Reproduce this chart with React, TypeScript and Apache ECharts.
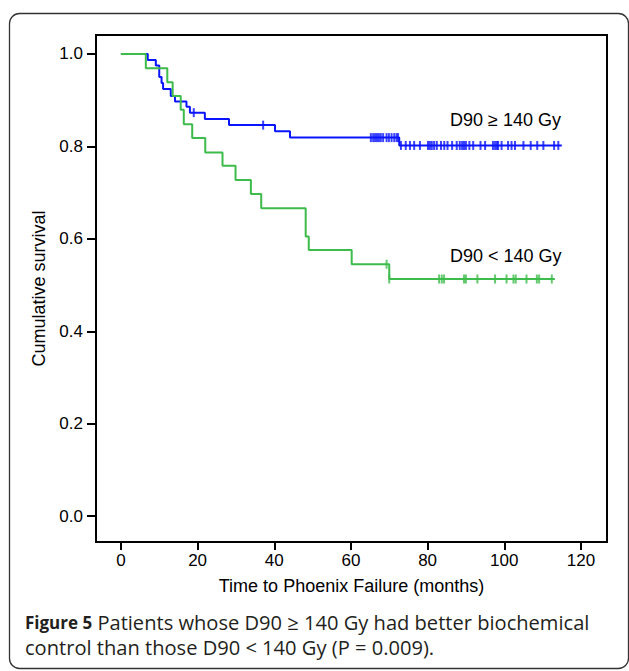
import React, { useEffect, useRef } from "react";
import * as echarts from "echarts";

// ---- data ----
const xTickValues = [0, 20, 40, 60, 80, 100, 120];
const yTickValues = [0, 0.2, 0.4, 0.6, 0.8, 1.0];

// D90 >= 140 Gy (blue) : times of drops and survival after the drop
const highTimes = [0, 7.0, 9.1, 10.0, 10.6, 11.0, 13.0, 14.1, 17.1, 18.0, 21.9, 28.2, 40.2, 44.1, 72.6, 115.0];
const highSurv = [1.0, 0.987, 0.975, 0.95, 0.937, 0.924, 0.909, 0.897, 0.886, 0.873, 0.859, 0.846, 0.833, 0.819, 0.802, 0.802];
const highCensor = [
  19.0, 37.1, 65.2, 65.8, 66.3, 66.8, 67.3, 67.8, 68.4, 69.3, 69.9, 70.6, 71.3, 71.9, 72.3,
  73.05, 74.3, 75.4, 76.5, 78.0, 80.1, 80.6, 81.1, 81.7, 82.4, 83.5, 84.35, 85.2, 86.4, 87.6,
  88.4, 89.0, 89.5, 90.0, 90.9, 91.9, 93.8, 95.0, 97.05, 97.6, 98.1, 98.4, 99.3, 101.0, 101.9,
  102.8, 105.0, 106.9, 108.6, 110.2, 113.0, 114.1,
];

// D90 < 140 Gy (green)
const lowTimes = [0, 6.5, 12.1, 13.5, 15.6, 16.4, 18.6, 22.0, 26.5, 29.9, 33.9, 36.6, 48.2, 49.0, 60.2, 70.0, 113.2];
const lowSurv = [1.0, 0.969, 0.939, 0.909, 0.879, 0.848, 0.818, 0.787, 0.758, 0.727, 0.697, 0.666, 0.605, 0.576, 0.545, 0.513, 0.513];
const lowCensor = [69.3, 70.0, 83.0, 83.7, 84.3, 89.5, 90.0, 93.0, 97.6, 100.6, 102.4, 103.0, 105.8, 108.5, 109.1, 112.4];

const groupNames = ["D90 ≥ 140 Gy", "D90 < 140 Gy"];

function survivalAt(times: number[], surv: number[], t: number): number {
  let s = surv[0];
  for (let i = 0; i < times.length; i++) {
    if (times[i] <= t) s = surv[i];
  }
  return s;
}

const BLUE = "#0a14ff";
const GREEN = "#3dbb4b";
const AXIS_FONT = "Liberation Sans";
const CAP_FONT = "Open Sans";
const CAP_COLOR = "#231f20";

export default function App() {
  const ref = useRef<HTMLDivElement>(null);

  useEffect(() => {
    if (!ref.current) return;
    const chart = echarts.init(ref.current, undefined, { renderer: "svg" });

    const highLine = highTimes.map((t, i) => [t, highSurv[i]]);
    const lowLine = lowTimes.map((t, i) => [t, lowSurv[i]]);
    const highCens = highCensor.map((t) => [t, survivalAt(highTimes, highSurv, t)]);
    const lowCens = lowCensor.map((t) => [t, survivalAt(lowTimes, lowSurv, t)]);

    chart.setOption({
      animation: false,
      backgroundColor: "#fff",
      grid: {
        left: 96,
        right: 22,
        top: 35,
        bottom: 129,
        show: true,
        borderColor: "#000",
        borderWidth: 2,
        containLabel: false,
      },
      xAxis: {
        type: "value",
        min: -6.5,
        max: 126.8,
        name: "Time to Phoenix Failure (months)",
        nameLocation: "middle",
        nameGap: 35,
        nameTextStyle: { fontFamily: AXIS_FONT, fontSize: 18, color: "#000" },
        axisLine: { show: true, onZero: false, lineStyle: { color: "#000", width: 2 } },
        axisTick: { show: true, length: 8, customValues: xTickValues, lineStyle: { color: "#000", width: 2 } },
        axisLabel: {
          customValues: xTickValues,
          margin: 10,
          fontFamily: AXIS_FONT,
          fontSize: 17,
          color: "#000",
          formatter: (v: number) => String(Math.round(v)),
        },
        splitLine: { show: false },
      },
      yAxis: {
        type: "value",
        min: -0.056,
        max: 1.041,
        name: "Cumulative survival",
        nameLocation: "middle",
        nameGap: 41,
        nameTextStyle: { fontFamily: AXIS_FONT, fontSize: 18, color: "#000" },
        axisLine: { show: true, onZero: false, lineStyle: { color: "#000", width: 2 } },
        axisTick: { show: true, length: 9, customValues: yTickValues, lineStyle: { color: "#000", width: 2 } },
        axisLabel: {
          customValues: yTickValues,
          margin: 13,
          fontFamily: AXIS_FONT,
          fontSize: 17,
          color: "#000",
          formatter: (v: number) => v.toFixed(1),
        },
        splitLine: { show: false },
      },
      series: [
        {
          name: groupNames[0],
          type: "line",
          step: "end",
          data: highLine,
          showSymbol: false,
          lineStyle: { color: BLUE, width: 2 },
          z: 2,
        },
        {
          name: groupNames[0] + " censored",
          type: "scatter",
          data: highCens,
          symbol: "rect",
          symbolSize: [2, 9],
          itemStyle: { color: BLUE },
          z: 3,
        },
        {
          name: groupNames[1],
          type: "line",
          step: "end",
          data: lowLine,
          showSymbol: false,
          lineStyle: { color: GREEN, width: 2 },
          z: 4,
        },
        {
          name: groupNames[1] + " censored",
          type: "scatter",
          data: lowCens,
          symbol: "rect",
          symbolSize: [2, 9],
          itemStyle: { color: GREEN },
          z: 5,
        },
      ],
      graphic: [
        {
          type: "rect",
          shape: { x: 9.5, y: 13.5, width: 619, height: 655, r: 10 },
          style: { fill: "none", stroke: "#333", lineWidth: 1.3 },
          silent: true,
          z: -1,
        },
        {
          type: "text",
          x: 450,
          y: 119.5,
          style: {
            text: groupNames[0],
            fontFamily: AXIS_FONT,
            fontSize: 18,
            fill: "#000",
            verticalAlign: "middle",
          },
        },
        {
          type: "text",
          x: 450,
          y: 255.5,
          style: {
            text: groupNames[1],
            fontFamily: AXIS_FONT,
            fontSize: 18,
            fill: "#000",
            verticalAlign: "middle",
          },
        },
        {
          type: "text",
          x: 25,
          y: 610,
          style: {
            text:
              "{b|Figure 5} {r|Patients whose D90 ≥ 140 Gy had better biochemical}\n{r|control than those D90 < 140 Gy (P = 0.009).}",
            fontFamily: CAP_FONT,
            fontSize: 20,
            lineHeight: 25,
            fill: CAP_COLOR,
            rich: {
              b: { fontFamily: CAP_FONT, fontSize: 17, fontWeight: "bold", fill: CAP_COLOR, lineHeight: 25 },
              r: { fontFamily: CAP_FONT, fontSize: 20.1, fill: CAP_COLOR, lineHeight: 25 },
            },
          },
        },
      ],
    });

    return () => chart.dispose();
  }, []);

  return (
    <div
      ref={ref}
      style={{ position: "fixed", left: 0, top: 0, width: 629, height: 671 }}
    />
  );
}
